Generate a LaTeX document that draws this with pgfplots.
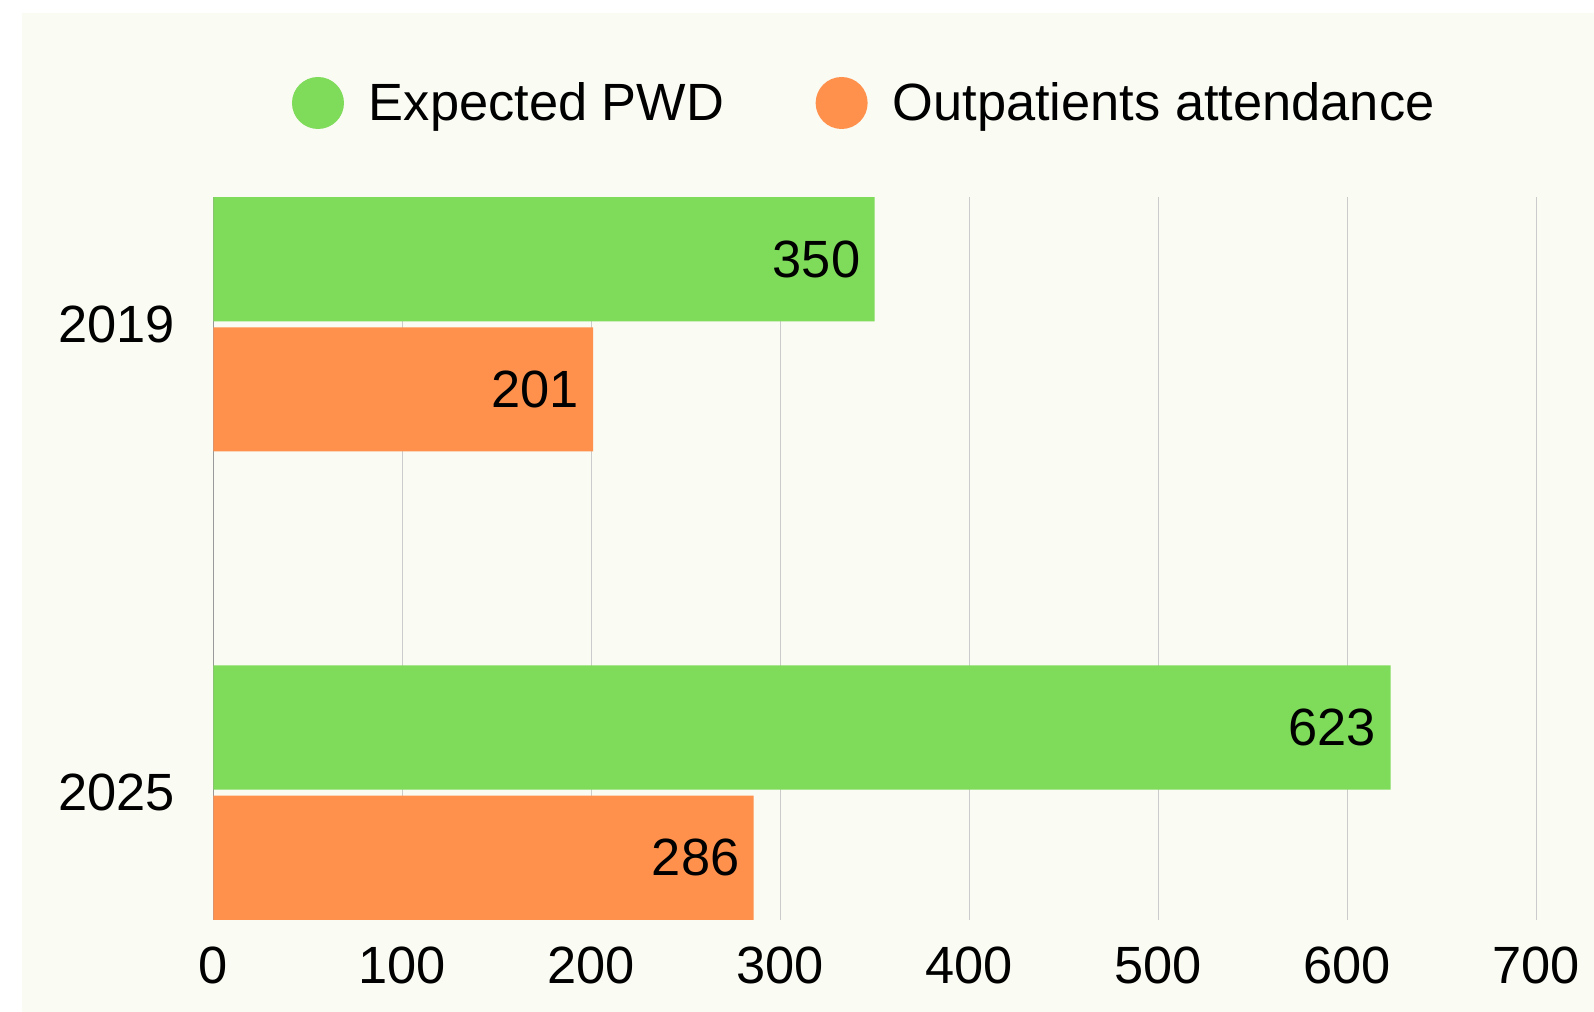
\documentclass[border=0pt]{standalone}
\usepackage{fontspec}
\setmainfont{Liberation Sans}
\usepackage{pgfplots}
\pgfplotsset{compat=1.18}
\definecolor{cream}{HTML}{FAFBF3}
\definecolor{barGreen}{HTML}{7FDB5A}
\definecolor{barOrange}{HTML}{FF914D}
\definecolor{gridgray}{HTML}{CBCBCB}
\definecolor{axgray}{HTML}{999999}
\newcommand\bigf{\fontsize{26.2bp}{31bp}\selectfont}
\begin{document}
\begin{tikzpicture}
\fill[white] (0,0) rectangle (797bp,506bp);
\fill[cream] (11bp,0) rectangle (797bp,499.5bp);
\begin{axis}[
  at={(106.65bp,46bp)}, anchor=south west,
  width=661.35bp, height=361.5bp, scale only axis,
  xbar, bar width=0.265,
  xmin=0, xmax=700,
  ymin=-0.272, ymax=1.272,
  ytick={0,1}, yticklabels={2025,2019},
  xtick={0,100,...,700},
  extra x ticks={0}, extra x tick labels={},
  extra x tick style={grid style={axgray, line width=0.6bp}},
  major tick length=0pt,
  axis line style={draw=none},
  xmajorgrids, grid style={gridgray, line width=0.5bp},
  /pgf/number format/assume math mode=true,
  tick label style={font=\bigf, inner sep=0pt},
  xticklabel style={yshift=-13.3bp},
  yticklabel style={xshift=-19bp},
  nodes near coords,
  nodes near coords style={anchor=east, inner sep=0pt, xshift=-7bp, font=\bigf, text=black},
  legend columns=2,
  legend style={at={(0.0595,1.130)}, anchor=west, draw=none, fill=none,
    inner sep=0pt, outer sep=0pt, font=\bigf},
  legend cell align=left,
]
\addplot[fill=barGreen, draw=none, bar shift=0.139,
  legend image code/.code={\fill[barGreen] (13bp,0) circle (13bp); \path (0,0) coordinate (la) (36.5bp,0) coordinate (lb);}]
  coordinates {(350,1) (623,0)};
\addlegendentry{Expected PWD}
\addplot[fill=barOrange, draw=none, bar shift=-0.139,
  legend image code/.code={\fill[barOrange] (13bp,0) circle (13bp); \path (-43.7bp,0) coordinate (lc) (36.5bp,0) coordinate (ld);}]
  coordinates {(201,1) (286,0)};
\addlegendentry{Outpatients attendance}
\end{axis}
\pgfresetboundingbox
\useasboundingbox (0,0) rectangle (797bp,506bp);
\end{tikzpicture}
\end{document}
